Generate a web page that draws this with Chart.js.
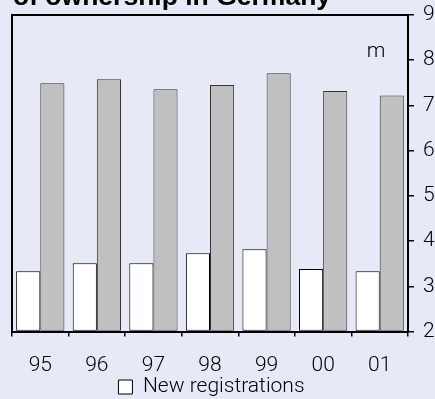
<!DOCTYPE html>
<html>
<head>
<meta charset="utf-8">
<script src="https://cdn.jsdelivr.net/npm/chart.js@4"></script>
<style>
  html, body { margin: 0; padding: 0; background: #E7E9F6; }
  #wrap { width: 435px; height: 399px; position: relative; }
</style>
</head>
<body>
<div id="wrap"><canvas id="c" width="435" height="399"></canvas></div>
<script>
// Years (two-digit) and values in millions
const years = ['95', '96', '97', '98', '99', '00', '01'];
const newRegistrations = [3.33, 3.51, 3.51, 3.73, 3.82, 3.38, 3.33];
const ownershipChanges = [7.49, 7.58, 7.36, 7.45, 7.71, 7.32, 7.22];
const yMin = 2;
const yMax = 9;
const unitLabel = 'm';
const titleLine = 'of ownership in Germany';

const FONT = 'Roboto';
const WEIGHT = 300;

// Frame, unit label and heading
const framePlugin = {
  id: 'frame',
  afterLayout(chart) {
    // nudge the legend row a little to the left
    if (chart.legend) {
      chart.legend.left -= 12;
      chart.legend.right -= 12;
    }
  },
  afterDraw(chart) {
    const { ctx, chartArea: a } = chart;
    ctx.save();
    ctx.strokeStyle = '#000';
    ctx.lineWidth = 2;
    ctx.beginPath();
    ctx.moveTo(a.left, a.bottom);
    ctx.lineTo(a.left, a.top);
    ctx.lineTo(a.right, a.top);
    ctx.stroke();

    ctx.fillStyle = '#000';
    ctx.font = WEIGHT + ' 21px "' + FONT + '"';
    ctx.textAlign = 'center';
    ctx.textBaseline = 'middle';
    ctx.fillText(unitLabel, a.right - 32, a.top + 37);

    ctx.font = 'bold 26.5px "Liberation Sans"';
    ctx.textAlign = 'left';
    ctx.textBaseline = 'alphabetic';
    ctx.fillText(titleLine, 13, 5);
    ctx.restore();
  }
};

new Chart(document.getElementById('c'), {
  type: 'bar',
  data: {
    labels: years,
    datasets: [
      {
        label: 'New registrations',
        data: newRegistrations,
        backgroundColor: '#FFFFFF',
        borderColor: '#000000',
        borderWidth: 1,
        borderSkipped: false,
        base: yMin
      },
      {
        label: 'Changes of ownership',
        data: ownershipChanges,
        backgroundColor: '#C0C0C0',
        borderColor: '#333333',
        borderWidth: 1,
        borderSkipped: false,
        base: yMin
      }
    ]
  },
  options: {
    responsive: false,
    animation: false,
    events: [],
    layout: { padding: { left: 12, right: 0, top: 15, bottom: -8.5 } },
    datasets: {
      bar: { categoryPercentage: 0.853, barPercentage: 1.0 }
    },
    scales: {
      x: {
        offset: true,
        grid: {
          display: true,
          offset: true,
          drawOnChartArea: false,
          drawTicks: true,
          tickLength: 5,
          color: '#000',
          lineWidth: 1.5
        },
        border: { display: true, color: '#000', width: 2 },
        ticks: {
          color: '#000',
          font: { family: FONT, size: 21, weight: WEIGHT },
          padding: 17,
          maxRotation: 0
        },
        afterFit(scale) { scale.height = 45; }
      },
      y: {
        position: 'right',
        min: yMin,
        max: yMax,
        grid: {
          drawOnChartArea: false,
          drawTicks: true,
          tickLength: 6,
          color: '#000',
          lineWidth: 1.5
        },
        border: { display: true, color: '#000', width: 2 },
        ticks: {
          stepSize: 1,
          color: '#000',
          font: { family: FONT, size: 21, weight: WEIGHT },
          padding: 9
        },
        afterFit(scale) {
          scale.width = 27;
          scale.paddingTop = 0;
          scale.paddingBottom = 0;
        }
      }
    },
    plugins: {
      legend: {
        display: true,
        position: 'bottom',
        labels: {
          color: '#000',
          font: { family: FONT, size: 21, weight: WEIGHT },
          boxWidth: 14,
          boxHeight: 14,
          padding: 0,
          filter: (item) => item.datasetIndex === 0
        }
      },
      title: { display: false },
      tooltip: { enabled: false }
    }
  },
  plugins: [framePlugin]
});
</script>
</body>
</html>
